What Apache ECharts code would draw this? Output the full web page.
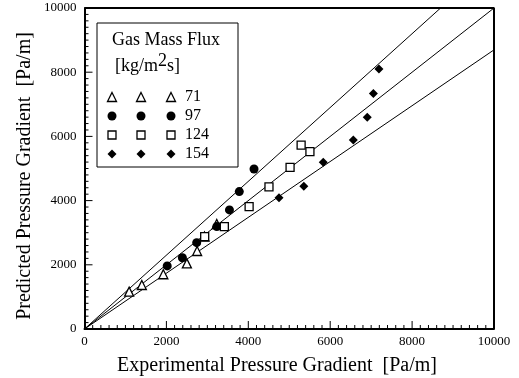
<!DOCTYPE html>
<html>
<head>
<meta charset="utf-8">
<script src="https://cdn.jsdelivr.net/npm/echarts@6/dist/echarts.min.js"></script>
<style>
  html, body { margin: 0; padding: 0; background: #fff; }
  #chart { width: 519px; height: 378px; }
</style>
</head>
<body>
<div id="chart"></div>
<script>
// Measured vs. predicted pressure gradient, grouped by gas mass flux [kg/m2s]
const fluxLabels = ['71', '97', '124', '154'];

// [experimental, predicted] in Pa/m
const flux71 = [[1090, 1165], [1400, 1370], [1925, 1705], [2500, 2045], [2750, 2430], [2930, 2880], [3230, 3270]];
const flux97 = [[2020, 1965], [2390, 2220], [2740, 2690], [3230, 3190], [3540, 3710], [3780, 4280], [4140, 4985]];
const flux124 = [[2935, 2880], [3415, 3190], [4020, 3810], [4505, 4425], [5020, 5035], [5290, 5730], [5505, 5525]];
const flux154 = [[4750, 4090], [5355, 4445], [5830, 5195], [6565, 5890], [6905, 6595], [7055, 7340], [7190, 8100]];

// Reference lines through the origin: +15 %, 1:1, -15 %
const lineRatios = [1.15, 1, 1 / 1.15];

const axisMax = 10000;
const axisStep = 2000;
const minorStep = 200;

const xTitle = 'Experimental Pressure Gradient  [Pa/m]';
const yTitle = 'Predicted Pressure Gradient  [Pa/m]';

const FONT = '"Liberation Serif", "Times New Roman", serif';

// Plot box inside the 519x378 canvas
const gridBox = { left: 84.5, right: 25, top: 8, bottom: 49 };
const plotW = 519 - gridBox.left - gridBox.right;
const plotH = 378 - gridBox.top - gridBox.bottom;

const symbolDefs = [
  { symbol: 'triangle', size: 9, hollow: true },
  { symbol: 'circle', size: 9, hollow: false },
  { symbol: 'rect', size: 8, hollow: true },
  { symbol: 'diamond', size: 9, hollow: false }
];
const groups = [flux71, flux97, flux124, flux154];

const chart = echarts.init(document.getElementById('chart'));

const lineSeries = lineRatios.map(r => ({
  type: 'line',
  data: [[0, 0], [Math.min(axisMax, axisMax / r), Math.min(axisMax, axisMax * r)]],
  symbol: 'none',
  silent: true,
  lineStyle: { color: '#000', width: 1 },
  z: 2
}));

const pointSeries = groups.map((g, i) => ({
  type: 'scatter',
  name: fluxLabels[i],
  data: g,
  symbol: symbolDefs[i].symbol,
  symbolSize: symbolDefs[i].size,
  itemStyle: symbolDefs[i].hollow
    ? { color: '#fff', borderColor: '#000', borderWidth: 1.3, opacity: 1 }
    : { color: '#000', borderColor: '#000', borderWidth: 0, opacity: 1 },
  z: 3 + i
}));

// Inward tick marks: 8 px at labelled values, 4 px in between (lengths converted to axis units)
const unitPerPxX = axisMax / plotW;
const unitPerPxY = axisMax / plotH;
const bottomTicks = [];
const leftTicks = [];
for (let v = minorStep; v < axisMax; v += minorStep) {
  const len = v % axisStep === 0 ? 8 : 4;
  bottomTicks.push([v, 0], [v, len * unitPerPxY], [v, '-']);
  leftTicks.push([0, v], [len * unitPerPxX, v], ['-', v]);
}

function furnitureSeries(data, width) {
  return {
    type: 'line',
    data,
    symbol: 'none',
    silent: true,
    clip: false,
    connectNulls: false,
    lineStyle: { color: '#000', width },
    z: 10
  };
}

const tickSeries = [
  furnitureSeries(bottomTicks, 1),
  furnitureSeries(leftTicks, 1),
  // top and right edges of the plot frame
  furnitureSeries([[0, axisMax], [axisMax, axisMax], [axisMax, 0]], 2)
];

function valueAxis(margin) {
  return {
    type: 'value',
    min: 0,
    max: axisMax,
    interval: axisStep,
    splitLine: { show: false },
    axisLine: { show: true, lineStyle: { color: '#000', width: 2 } },
    axisTick: { show: false },
    minorTick: { show: false },
    axisLabel: { margin, color: '#000', fontFamily: FONT, fontSize: 13, formatter: v => String(v) }
  };
}

// Legend box: three markers per row, then the label
const legendX = 97, legendY = 23, legendW = 141, legendH = 144;
const rowY = [97, 116, 135, 154];
const colX = [112, 141, 171];

function markerShape(i, cx, cy) {
  const s = symbolDefs[i];
  const stroke = { stroke: '#000', lineWidth: 1.3, fill: s.hollow ? '#fff' : '#000' };
  const h = s.size / 2;
  if (s.symbol === 'circle') {
    return { type: 'circle', shape: { cx, cy, r: h }, style: { fill: '#000' } };
  }
  if (s.symbol === 'rect') {
    return { type: 'rect', shape: { x: cx - h, y: cy - h, width: s.size, height: s.size }, style: stroke };
  }
  if (s.symbol === 'triangle') {
    return { type: 'polygon', shape: { points: [[cx, cy - h], [cx + h, cy + h], [cx - h, cy + h]] }, style: stroke };
  }
  return { type: 'polygon', shape: { points: [[cx, cy - h], [cx + h, cy], [cx, cy + h], [cx - h, cy]] }, style: { fill: '#000' } };
}

const legendChildren = [
  { type: 'rect', shape: { x: legendX, y: legendY, width: legendW, height: legendH },
    style: { fill: '#fff', stroke: '#000', lineWidth: 1 } },
  { type: 'text', x: 112, y: 40,
    style: { text: 'Gas Mass Flux', font: '18px ' + FONT, fill: '#000', verticalAlign: 'middle' } },
  { type: 'text', x: 115, y: 64,
    style: {
      text: '{a|[kg/m}{s|2}{a|s]}',
      verticalAlign: 'middle',
      rich: {
        a: { fontFamily: FONT, fontSize: 18, color: '#000', verticalAlign: 'bottom' },
        s: { fontFamily: FONT, fontSize: 18, color: '#000', verticalAlign: 'bottom', padding: [0, 0, 5, 0] }
      }
    } }
];
fluxLabels.forEach((lab, i) => {
  colX.forEach(cx => legendChildren.push(markerShape(i, cx, rowY[i])));
  legendChildren.push({ type: 'text', x: 185, y: rowY[i],
    style: { text: lab, font: '16px ' + FONT, fill: '#000', verticalAlign: 'middle' } });
});

// Axis titles
const titleTexts = [
  { type: 'text', x: 277, y: 366,
    style: { text: xTitle, font: '20px ' + FONT, fill: '#000', align: 'center', verticalAlign: 'middle' } },
  { type: 'text', x: 25, y: 176, rotation: Math.PI / 2,
    style: { text: yTitle, font: '20px ' + FONT, fill: '#000', align: 'center', verticalAlign: 'middle' } }
];

chart.setOption({
  animation: false,
  grid: Object.assign({ outerBoundsMode: 'none' }, gridBox),
  xAxis: valueAxis(6),
  yAxis: valueAxis(8),
  series: lineSeries.concat(pointSeries, tickSeries),
  graphic: [
    { type: 'group', z: 100, children: legendChildren },
    { type: 'group', z: 100, children: titleTexts }
  ]
});
</script>
</body>
</html>
